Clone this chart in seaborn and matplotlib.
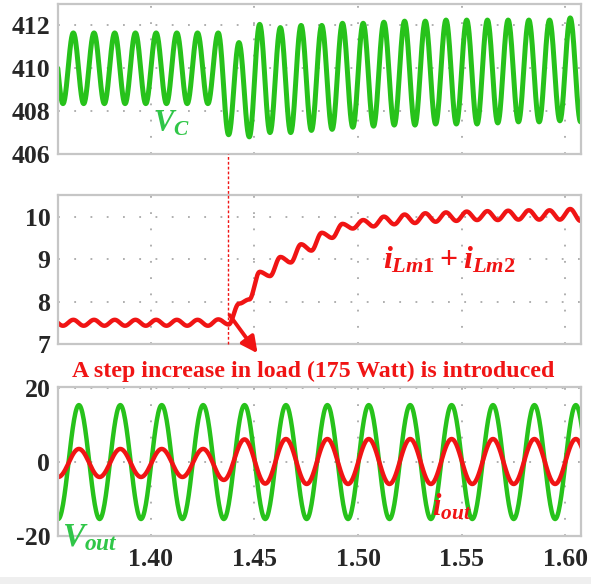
import numpy as np
import pandas as pd
import matplotlib
matplotlib.use("Agg")
import matplotlib.pyplot as plt
from matplotlib.patches import Rectangle
import seaborn as sns

# ---------------------------------------------------------------- data
T_START, T_END = 1.3551, 1.6077          # visible time window (s)
T_STEP = 1.4372                          # instant the extra load is switched in
time_ticks = [1.40, 1.45, 1.50, 1.55, 1.60]
time_labels = ["1.40", "1.45", "1.50", "1.55", "1.60"]

# DC-link capacitor voltage V_C (100 Hz ripple): crest / trough values
VC_FIRST_CREST = 1.3525
VC_HALF_PERIOD = 0.005
vc_crests = [411.65, 411.65, 411.65, 411.65, 411.65, 411.65, 411.65, 411.65,
             411.65, 411.20, 412.05, 411.90, 412.00, 412.00, 412.10, 412.10,
             412.15, 412.20, 412.20, 412.25, 412.25, 412.25, 412.25, 412.25,
             412.25, 412.35, 412.30]
vc_troughs = [408.35, 408.35, 408.35, 408.35, 408.35, 408.35, 408.35, 408.35,
              406.90, 406.80, 407.00, 407.00, 407.10, 407.15, 407.25, 407.30,
              407.35, 407.35, 407.40, 407.40, 407.40, 407.45, 407.50, 407.50,
              407.55, 407.50]
vc_ticks = [406, 408, 410, 412]

# magnetising current i_Lm1 + i_Lm2: crest / trough values
IL_FIRST_CREST = 1.3525
IL_HALF_PERIOD = 0.005
il_crests = [7.57, 7.57, 7.57, 7.57, 7.57, 7.57, 7.57, 7.57,
             7.58, 7.95, 8.70, 9.05, 9.35, 9.62, 9.83, 9.92,
             10.00, 10.05, 10.08, 10.10, 10.12, 10.13, 10.14, 10.15,
             10.15, 10.18, 10.15]
il_troughs = [7.43, 7.43, 7.43, 7.43, 7.43, 7.43, 7.43, 7.43,
              7.46, 8.05, 8.60, 8.92, 9.20, 9.50, 9.72, 9.77,
              9.82, 9.85, 9.88, 9.90, 9.92, 9.92, 9.93, 9.93,
              9.93, 9.90]
il_ticks = [7, 8, 9, 10]

# output voltage V_out and output current i_out (50 Hz)
OUT_FIRST_CREST = 1.3452
OUT_HALF_PERIOD = 0.010
vout_crests = [15.5, 15.5, 15.5, 15.5, 15.5, 15.5, 15.5,
               15.5, 15.5, 15.5, 15.5, 15.5, 15.5, 15.5]
vout_troughs = [-15.4, -15.4, -15.4, -15.4, -15.4, -15.4, -15.4,
                -15.4, -15.4, -15.4, -15.4, -15.4, -15.4, -15.4]
iout_crests = [3.6, 3.6, 3.6, 3.6, 3.6, 6.2, 6.3,
               6.3, 6.3, 6.3, 6.3, 6.3, 6.3, 6.3]
iout_troughs = [-4.0, -4.0, -4.0, -4.0, -4.8, -5.8, -5.9,
                -5.9, -5.9, -5.9, -5.9, -5.9, -5.9, -5.9]
out_ticks = [-20, 0, 20]

STEP_NOTE = "A step increase in load (175 Watt) is introduced"


# ---------------------------------------------------------------- helpers
def interleave(crests, troughs):
    vals = []
    for i, c in enumerate(crests):
        vals.append(c)
        if i < len(troughs):
            vals.append(troughs[i])
    return vals


def waveform(t_first, half_period, extremes, n=30):
    """Join successive extreme values with half-cosine arcs."""
    ts, vs = [], []
    s = np.linspace(0.0, 1.0, n, endpoint=False)
    for i in range(len(extremes) - 1):
        ts.append(t_first + (i + s) * half_period)
        vs.append(extremes[i] + (extremes[i + 1] - extremes[i]) * (1 - np.cos(np.pi * s)) / 2)
    ts.append([t_first + (len(extremes) - 1) * half_period])
    vs.append([extremes[-1]])
    return pd.DataFrame({"t": np.concatenate(ts), "v": np.concatenate(vs)})


# ---------------------------------------------------------------- style
sns.set_style("white")
plt.rcParams["font.family"] = ["Liberation Serif", "DejaVu Serif"]
plt.rcParams["mathtext.fontset"] = "custom"
plt.rcParams["mathtext.it"] = "Liberation Serif:italic:bold"
plt.rcParams["mathtext.rm"] = "Liberation Serif:bold"
plt.rcParams["mathtext.bf"] = "Liberation Serif:bold"

GREEN = "#27c21b"
LABEL_GREEN = "#30c648"
RED = "#f01414"
GRID = "#a9a9a9"
FRAME = "#c6c6c6"
TICK_SIZE = 18.5

W, H = 591, 584
fig = plt.figure(figsize=(W / 100, H / 100), dpi=100)


def px_axes(left, top, right, bottom):
    return fig.add_axes([left / W, 1 - bottom / H, (right - left) / W, (bottom - top) / H])


ax_vc = px_axes(58, 4, 581, 154)
ax_il = px_axes(58, 195, 581, 344)
ax_out = px_axes(58, 387, 581, 536)

# ---------------------------------------------------------------- traces
df_vc = waveform(VC_FIRST_CREST, VC_HALF_PERIOD, interleave(vc_crests, vc_troughs))
df_il = waveform(IL_FIRST_CREST, IL_HALF_PERIOD, interleave(il_crests, il_troughs))
df_vout = waveform(OUT_FIRST_CREST, OUT_HALF_PERIOD, interleave(vout_crests, vout_troughs))
df_iout = waveform(OUT_FIRST_CREST, OUT_HALF_PERIOD, interleave(iout_crests, iout_troughs))

kw = dict(x="t", y="v", estimator=None, sort=False, legend=False)
sns.lineplot(data=df_vc, ax=ax_vc, color=GREEN, lw=3.6, **kw)
sns.lineplot(data=df_il, ax=ax_il, color=RED, lw=3.2, **kw)
sns.lineplot(data=df_vout, ax=ax_out, color=GREEN, lw=3.2, **kw)
sns.lineplot(data=df_iout, ax=ax_out, color=RED, lw=3.2, **kw)

for ax, ticks, lims in [(ax_vc, vc_ticks, (406, 413)),
                        (ax_il, il_ticks, (7, 10.51)),
                        (ax_out, out_ticks, (-20, 20.4))]:
    ax.set_xlim(T_START, T_END)
    ax.set_ylim(*lims)
    ax.set_yticks(ticks)
    ax.set_yticklabels([str(v) for v in ticks])
    ax.set_xticks(time_ticks)
    ax.set_xlabel("")
    ax.set_ylabel("")
    ax.grid(True, color=GRID, linestyle=(0, (1, 8)), linewidth=1.3)
    ax.set_axisbelow(True)
    for sp in ax.spines.values():
        sp.set_color(FRAME)
        sp.set_linewidth(1.6)
    ax.tick_params(axis="y", direction="out", length=4, width=1.2, color=FRAME,
                   labelsize=TICK_SIZE, pad=1.5)
    ax.tick_params(axis="x", direction="out", length=4, width=1.2, color=FRAME,
                   labelsize=TICK_SIZE, pad=5)
    for lab in ax.get_yticklabels() + ax.get_xticklabels():
        lab.set_fontweight("bold")

ax_vc.set_xticklabels([])
ax_il.set_xticklabels([])
ax_out.set_xticklabels(time_labels)
for lab in ax_out.get_xticklabels():
    lab.set_fontweight("bold")

# ---------------------------------------------------------------- load-step marker
ax_il.axvline(T_STEP, ymin=0, ymax=(344 - 154) / 149, clip_on=False,
              color=RED, lw=1.0, linestyle=(0, (2, 1.5)), zorder=5)
ax_il.annotate("", xy=(1.4515, 6.78), xytext=(1.4380, 7.68),
               arrowprops=dict(arrowstyle="-|>", color=RED, lw=2.8,
                               mutation_scale=24, shrinkA=0, shrinkB=0),
               annotation_clip=False, zorder=6)

fig.text(313 / W, 1 - 371 / H, STEP_NOTE, ha="center", va="center",
         color=RED, fontsize=17.2, fontweight="bold")

# ---------------------------------------------------------------- trace labels
fig.text(153 / W, 1 - 131 / H, r"$V_C$", color=LABEL_GREEN, fontsize=22,
         ha="left", va="baseline")
fig.text(383 / W, 1 - 268 / H, r"$i_{Lm1}+i_{Lm2}$", color=RED, fontsize=23,
         ha="left", va="baseline")
fig.text(62 / W, 1 - 546 / H, r"$V_{out}$", color=LABEL_GREEN, fontsize=24,
         ha="left", va="baseline")
fig.text(432 / W, 1 - 515 / H, r"$i_{out}$", color=RED, fontsize=22,
         ha="left", va="baseline")

# light strip along the bottom edge
fig.patches.append(Rectangle((0, 0), 1, 7 / H, transform=fig.transFigure,
                             facecolor="#efefef", edgecolor="none", zorder=-5))

fig.savefig("out.png", dpi=100)
